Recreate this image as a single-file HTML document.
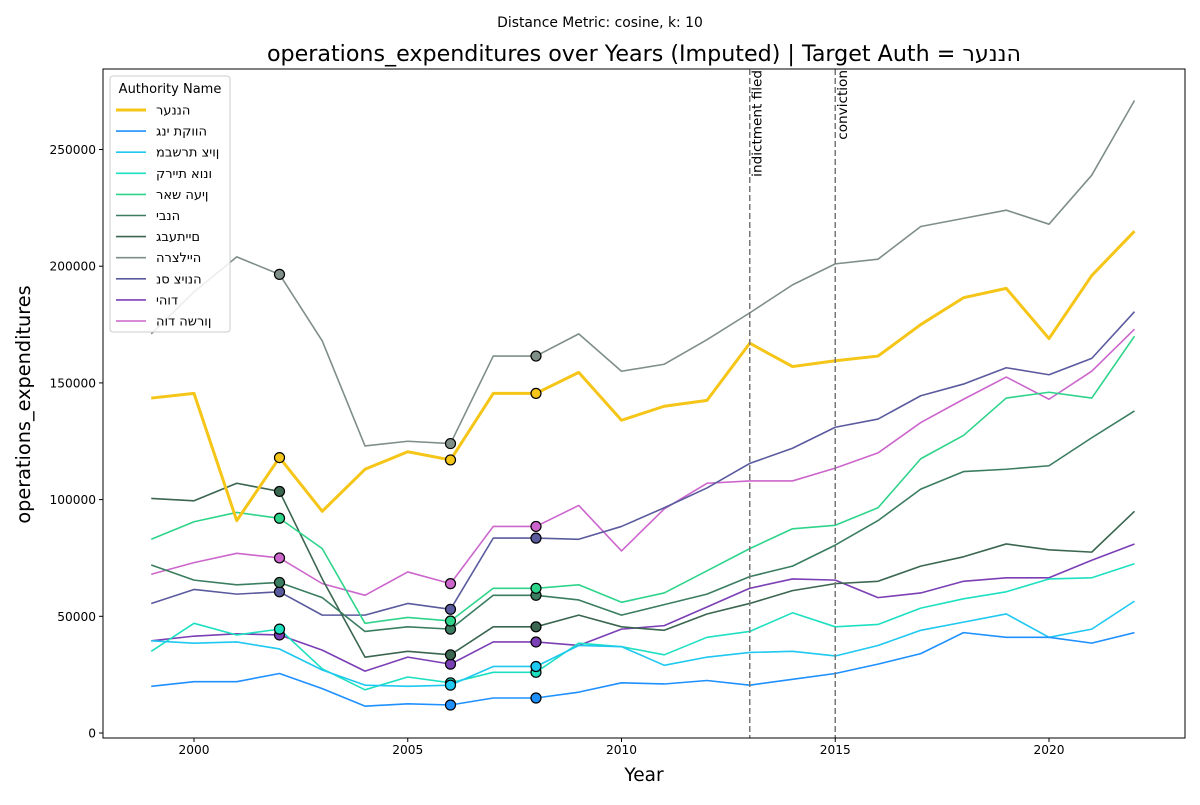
<!DOCTYPE html>
<html><head><meta charset="utf-8"><style>
body{margin:0;background:#fff;}
svg text{font-family:"DejaVu Sans","Liberation Sans",sans-serif;}
.heb{unicode-bidi:bidi-override;direction:ltr;}
</style></head><body>
<svg id="chart" width="1200" height="800" xmlns="http://www.w3.org/2000/svg">
<rect width="1200" height="800" fill="#fff"/>
<text x="600" y="27" font-size="13.9" text-anchor="middle">Distance Metric: cosine, k: 10</text>
<text x="644" y="61" font-size="22.2" text-anchor="middle">operations_expenditures over Years (Imputed) | Target Auth = <tspan style="unicode-bidi:bidi-override;direction:ltr">רעננה</tspan></text>
<g id="plot"></g>
</svg>
<script>
const years=[1999,2000,2001,2002,2003,2004,2005,2006,2007,2008,2009,2010,2011,2012,2013,2014,2015,2016,2017,2018,2019,2020,2021,2022];
const names=["רעננה","גני תקווה","מבשרת ציון","קריית אונו","ראש העין","יבנה","גבעתיים","הרצלייה","נס ציונה","יהוד","הוד השרון"];
const colors=["#f5c518","#1e90ff","#1ec8f0","#1ee0c0","#2ed48a","#3a7d60","#3b6650","#7f8f88","#5a5a9e","#7b3fb5","#cc66cc"];
const raanana=[143.5,145.5,91,118,95,113,120.5,117,145.5,145.5,154.5,134,140,142.5,167,157,159.5,161.5,175,186.5,190.5,169,196,215];
const ganeiTikva=[20,22,22,25.5,19,11.5,12.5,12,15,15,17.5,21.5,21,22.5,20.5,23,25.5,29.5,34,43,41,41,38.5,43];
const mevaseret=[39.5,38.5,39,36,27,20.5,20,20.5,28.5,28.5,37.5,37,29,32.5,34.5,35,33,37.5,44,47.5,51,41,44.5,56.5];
const kiryatOno=[35,47,42,44.5,27.5,18.5,24,21.5,26,26,38.5,37,33.5,41,43.5,51.5,45.5,46.5,53.5,57.5,60.5,66,66.5,72.5];
const roshHaayin=[83,90.5,94.5,92,79,47,49.5,48,62,62,63.5,56,60,69.5,79,87.5,89,96.5,117.5,127.5,143.5,146,143.5,170];
const yavne=[72,65.5,63.5,64.5,58,43.5,45.5,44.5,59,59,57,50.5,55,59.5,67,71.5,80.5,91,104.5,112,113,114.5,126.5,138];
const givatayim=[100.5,99.5,107,103.5,66,32.5,35,33.5,45.5,45.5,50.5,45.5,44,51,55.5,61,64,65,71.5,75.5,81,78.5,77.5,95];
const herzliya=[171,189,204,196.5,168,123,125,124,161.5,161.5,171,155,158,168.5,180,192,201,203,217,220.5,224,218,239,271];
const nesZiona=[55.5,61.5,59.5,60.5,50.5,50.5,55.5,53,83.5,83.5,83,88.5,96.5,105,115.5,122,131,134.5,144.5,149.5,156.5,153.5,160.5,180.5];
const yehud=[39.5,41.5,42.5,42,35.5,26.5,32.5,29.5,39,39,37.5,44.5,46,54,62,66,65.5,58,60,65,66.5,66.5,74,81];
const hodHasharon=[68,73,77,75,64,59,69,64,88.5,88.5,97.5,78,96,107,108,108,113.5,120,133,143,152.5,143,155,173];
const series=[raanana,ganeiTikva,mevaseret,kiryatOno,roshHaayin,yavne,givatayim,herzliya,nesZiona,yehud,hodHasharon];
const allImp=[2002,2006,2008];
const laterImp=[2006,2008];
const imputed=[allImp,laterImp,laterImp,allImp,allImp,allImp,allImp,allImp,allImp,allImp,allImp];
const yTicks=[0,50000,100000,150000,200000,250000];
const xTicks=[2000,2005,2010,2015,2020];
const events=[2013,2015];
const eventLabels=["indictment filed","conviction"];

const L=103,R=1185,T=69,B=738;
const X=y=>194+(y-2000)*42.75;
const Y=v=>733-v*0.002334;
const NS="http://www.w3.org/2000/svg";
const g=document.getElementById('plot');
function mk(t,a,p){const e=document.createElementNS(NS,t);for(const k in a)e.setAttribute(k,a[k]);(p||g).appendChild(e);return e;}

yTicks.forEach(v=>{
 const l=mk('line',{x1:L-4,x2:L,y1:Y(v),y2:Y(v),stroke:'#000'});
 
 
 const t=mk('text',{x:L-7,y:Y(v)+4.5,'font-size':12.2,'text-anchor':'end'});t.textContent=v;
 
 
});
xTicks.forEach(v=>{
 const l=mk('line',{x1:X(v),x2:X(v),y1:B,y2:B+4,stroke:'#000'});
 
 
 const t=mk('text',{x:X(v),y:B+16,'font-size':12.2,'text-anchor':'middle'});t.textContent=v;
 
 
});
let t=mk('text',{x:(L+R)/2,y:781,'font-size':18.5,'text-anchor':'middle'});t.textContent='Year';


t=mk('text',{x:0,y:0,'font-size':19.3,'text-anchor':'middle',transform:`translate(30,${(T+B)/2+1}) rotate(-90)`});t.textContent='operations_expenditures';



for(let i=series.length-1;i>=0;i--){
 const d=series[i];
 const p=mk('polyline',{points:d.map((v,j)=>X(years[j])+','+Y(v*1000)).join(' '),fill:'none',stroke:colors[i],'stroke-width':i==0?3:1.6,'stroke-linejoin':'round'});
 
 
}
for(let i=series.length-1;i>=0;i--){
 imputed[i].forEach(yr=>{
  const j=years.indexOf(yr);
  const c=mk('circle',{cx:X(yr),cy:Y(series[i][j]*1000),r:5,fill:colors[i],stroke:'#000','stroke-width':1.2});
  
  
 });
}
events.forEach((yr,k)=>{
 const l=mk('line',{x1:X(yr),x2:X(yr),y1:T,y2:B,stroke:'#777','stroke-width':1.5,'stroke-dasharray':'6,3'});
 
 
 const tx=mk('text',{x:0,y:0,'font-size':13.6,'text-anchor':'end',transform:`translate(${X(yr)+11.5},${T+1}) rotate(-90)`});
 tx.textContent=eventLabels[k];
 
 
});
const fr=mk('rect',{x:L,y:T,width:R-L,height:B-T,fill:'none',stroke:'#000','stroke-width':1});


const lg=mk('g',{});


mk('rect',{x:110,y:76,width:120,height:256,rx:3,fill:'#fff','fill-opacity':0.85,stroke:'#ccc'},lg);
const lt=mk('text',{x:170,y:93,'font-size':13,'text-anchor':'middle'},lg);lt.textContent='Authority Name';
names.forEach((n,i)=>{
 const y=110+i*21.1;
 const e=mk('g',{},lg);
 
 
 mk('line',{x1:116,x2:146,y1:y,y2:y,stroke:colors[i],'stroke-width':i==0?3:1.6},e);
 const tt=mk('text',{x:156,y:y+4.5,'font-size':13,class:'heb'},e);tt.textContent=n;
});
</script>
</body></html>
